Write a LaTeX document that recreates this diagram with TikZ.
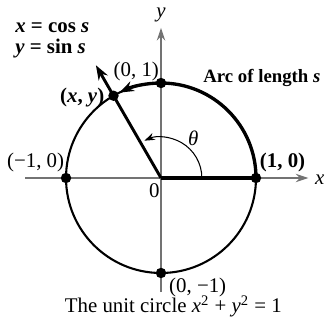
\documentclass[tikz,border=0pt]{standalone}
\usepackage{fontspec}
\setmainfont{Liberation Serif}
\usepackage{xcolor}
\definecolor{axisgray}{rgb}{0.45, 0.45, 0.45}
\usetikzlibrary{positioning,calc,arrows.meta}
\tikzset{
  dot/.style={circle, fill=black, inner sep=0pt, minimum size=5pt},
  axisline/.style={axisgray, line width=0.8pt, -{Stealth[length=6pt, width=4pt]}},
  lbl/.style={inner sep=1pt, font=\normalsize}
}
\begin{document}
\begin{tikzpicture}[scale=1.6]
				\useasboundingbox (-1.695,-1.537) rectangle (1.758,1.874);
				\coordinate (O) at (0,0);
				\coordinate (xs) at (-1.43,0);
				\coordinate (xe) at (1.55,0);
				\coordinate (ys) at (0,-1.2);
				\coordinate (ye) at (0,1.58);
				\coordinate (tip) at (120:1.37);
				% axes
				\draw [axisline] (xs) -- (xe);
				\draw [axisline] (ys) -- (ye);
				\node[lbl] (xl) at (1.67,-0.02) {\textit{x}};
				\node[lbl] (yl) at (0,1.72) {\textit{y}};
				% circle and arc
				\draw [line width=1pt] (O) circle (1);
				\draw [line width=1.6pt, -{Stealth[length=7pt, width=5pt]}] (1,0) arc (0:116:1);
				\draw [line width=1.6pt] (O) -- (1,0);
				\node[dot] (P) at (120:1) {};
				\draw [line width=1.4pt, -{Stealth[length=7pt, width=5pt]}] (O) -- (tip);
				% angle
				\draw [line width=0.5pt, -{Stealth[length=5pt, width=3.5pt]}] (0.43,0) arc (0:114:0.43);
				\node[lbl] (th) at (0.34,0.42) {\textit{θ}};
				% points
				\node[dot] (E) at (1,0) {};
				\node[dot] (W) at (-1,0) {};
				\node[dot] (N) at (0,1) {};
				\node[dot] (S) at (0,-1) {};
				\node[lbl] (El) at (1.28,0.16) {\textbf{(1, 0)}};
				\node[lbl] (Wl) at (-1.32,0.16) {(−1, 0)};
				\node[lbl] (Nl) at (-0.26,1.12) {(0, 1)};
				\node[lbl, anchor=west] (Sl) at (0.06,-1.15) {(0, −1)};
				\node[lbl] (Ol) at (-0.07,-0.13) {0};
				\node[lbl] (Pl) at (-0.83,0.85) {\textbf{(\textit{x}, \textit{y})}};
				\node[lbl, anchor=west, font=\fontsize{9}{11}\selectfont] (arcl) at (0.42,1.05) {\textbf{Arc of length \textit{s}}};
				\node[lbl, anchor=west, align=left] (eqs) at (-1.56,1.45) {\textbf{\textit{x} = cos \textit{s}}\\[-2pt]\textbf{\textit{y} = sin \textit{s}}};
				\node[lbl] (cap) at (0.13,-1.35) {The unit circle \textit{x}\textsuperscript{2} + \textit{y}\textsuperscript{2} = 1};
			\end{tikzpicture}
\end{document}
